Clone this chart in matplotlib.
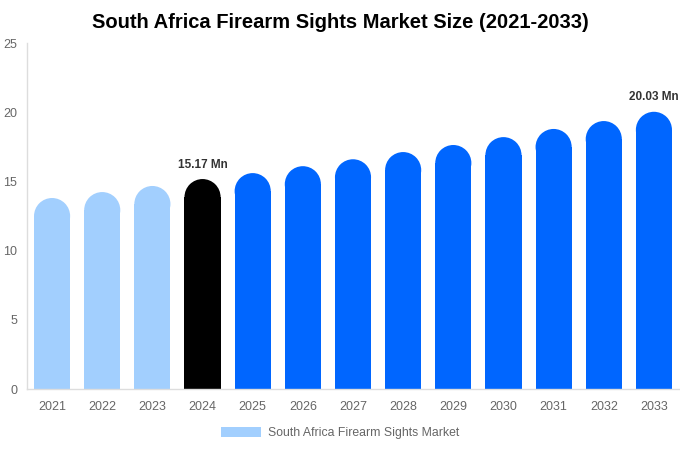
import matplotlib
matplotlib.use("Agg")
import matplotlib.pyplot as plt
from matplotlib.patches import Ellipse, Patch

plt.rcParams['font.family'] = ['Liberation Sans', 'DejaVu Sans']

# Data
years = ['2021', '2022', '2023', '2024', '2025', '2026', '2027',
         '2028', '2029', '2030', '2031', '2032', '2033']
values = [13.8, 14.23, 14.67, 15.17, 15.6, 16.1, 16.6,
          17.12, 17.63, 18.2, 18.79, 19.36, 20.03]
colors = ['#a2cffe'] * 3 + ['#000000'] + ['#0066ff'] * 9
labels = {3: '15.17 Mn', 12: '20.03 Mn'}

fig = plt.figure(figsize=(6.8, 4.5), dpi=100)
ax = fig.add_axes([27 / 680, 61 / 450, 652 / 680, 346 / 450])

ymax = 25
ax.set_xlim(-0.5, len(years) - 0.5)
ax.set_ylim(0, ymax)

width = 0.72
# cap height in data units (semicircle radius = half bar width in pixels)
px_per_x = 652 / len(years)
px_per_y = 346 / ymax
r_px = width * px_per_x / 2
cap_h = r_px / px_per_y

x = list(range(len(years)))
ax.bar(x, [v - cap_h for v in values], width=width, color=colors, linewidth=0)
for i, v in enumerate(values):
    ax.add_patch(Ellipse((i, v - cap_h), width, 2 * cap_h,
                         color=colors[i], linewidth=0))

for i, txt in labels.items():
    ax.text(i, values[i] + 0.6, txt, ha='center', va='bottom',
            fontsize=8.5, fontweight='bold', color='#333333')

ax.set_xticks(x)
ax.set_xticklabels(years)
ax.set_yticks([0, 5, 10, 15, 20, 25])
ax.tick_params(axis='both', length=0, labelsize=9, labelcolor='#666666')
ax.tick_params(axis='x', pad=9)
ax.tick_params(axis='y', pad=7)

for s in ['top', 'right']:
    ax.spines[s].set_visible(False)
for s in ['left', 'bottom']:
    ax.spines[s].set_color('#dddddd')
    ax.spines[s].set_linewidth(1)

fig.text(0.5, 1 - 22 / 450, 'South Africa Firearm Sights Market Size (2021-2033)',
         ha='center', va='center', fontsize=14.5, fontweight='bold', color='#000000')

handle = Patch(facecolor='#a2cffe', edgecolor='none')
fig.legend([handle], ['South Africa Firearm Sights Market'], loc='center',
           bbox_to_anchor=(0.5, 1 - 433 / 450), frameon=False, fontsize=8.8,
           labelcolor='#666666', handlelength=3.3, handleheight=0.9,
           handletextpad=0.5)

fig.savefig('out.png', dpi=100)
